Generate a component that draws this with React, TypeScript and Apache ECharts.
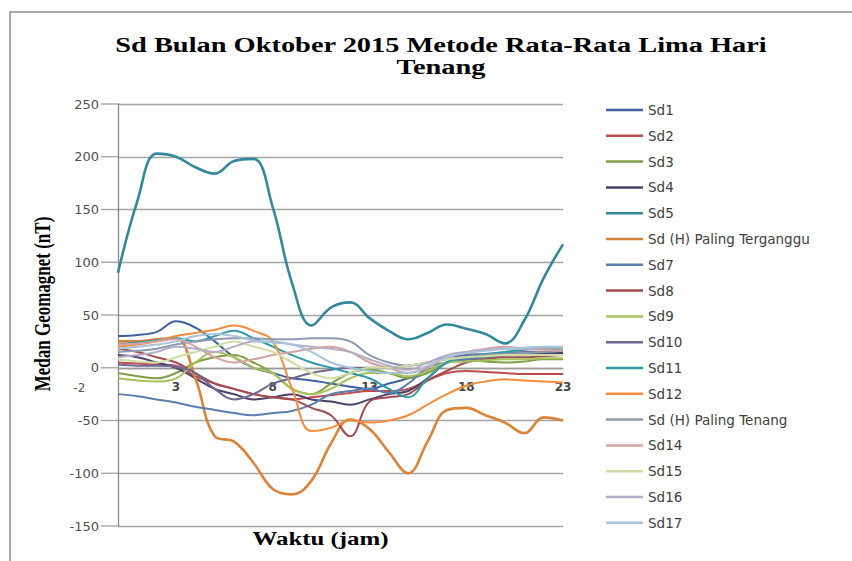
import React, { useEffect, useRef } from "react";
import * as echarts from "echarts";

const titleLines = ["Sd Bulan Oktober 2015 Metode Rata-Rata Lima Hari", "Tenang"];
const xName = "Waktu (jam)";
const yName = "Medan Geomagnet (nT)";

const hours = [0, 1, 2, 3, 4, 5, 6, 7, 8, 9, 10, 11, 12, 13, 14, 15, 16, 17, 18, 19, 20, 21, 22, 23];
const xTickValues = [3, 8, 13, 18, 23];
const xOuterTick = -2;
const yTicks = [-150, -100, -50, 0, 50, 100, 150, 200, 250];

const seriesNames = [
  "Sd1", "Sd2", "Sd3", "Sd4", "Sd5", "Sd (H) Paling Terganggu", "Sd7", "Sd8", "Sd9",
  "Sd10", "Sd11", "Sd12", "Sd (H) Paling Tenang", "Sd14", "Sd15", "Sd16", "Sd17",
];

const sd1 = [30, 31, 34, 44, 38, 25, 10, 0, -5, -10, -12, -15, -18, -20, -15, -10, -3, 5, 8, 10, 12, 13, 14, 15];
const sd2 = [5, 4, 3, 2, -8, -15, -20, -25, -28, -30, -28, -26, -24, -22, -22, -20, -12, -5, -3, -4, -5, -6, -6, -6];
const sd3 = [-5, -8, -10, -5, 5, 10, 12, 5, -5, -20, -25, -15, -5, -2, -5, -10, -5, 5, 8, 6, 5, 6, 8, 8];
const sd4 = [12, 10, 5, 0, -10, -20, -25, -30, -28, -25, -30, -32, -35, -30, -25, -22, -10, 5, 8, 10, 12, 12, 13, 14];
const sd5 = [90, 158, 203, 200, 190, 184, 196, 198, 152, 80, 40, 57, 62, 47, 35, 27, 33, 41, 37, 32, 23, 45, 85, 117];
const sdTerganggu = [25, 25, 27, 28, -10, -65, -70, -90, -115, -120, -107, -72, -49, -58, -80, -100, -70, -40, -38, -45, -52, -62, -47, -50];
const sd7 = [-25, -27, -30, -33, -37, -40, -43, -45, -43, -41, -35, -25, -22, -20, -24, -15, 0, 5, 8, 10, 12, 12, 12, 12];
const sd8 = [18, 15, 10, 5, -5, -15, -20, -25, -28, -30, -38, -45, -65, -32, -28, -25, -12, -3, 5, 8, 10, 10, 11, 12];
const sd9 = [-10, -12, -13, -10, 5, 15, 10, 0, -5, -20, -25, -20, -10, -5, -5, -8, -3, 5, 6, 7, 8, 8, 9, 9];
const sd10 = [3, 2, 2, 1, -5, -20, -30, -25, -15, -10, -5, -2, 0, 0, 0, 2, 5, 10, 12, 13, 14, 15, 15, 16];
const sd11 = [22, 24, 26, 28, 25, 30, 35, 28, 20, 12, 5, 0, -5, -10, -20, -28, -10, 5, 10, 13, 15, 17, 18, 18];
const sd12 = [20, 22, 25, 30, 33, 36, 40, 35, 25, -20, -60, -57, -50, -52, -50, -45, -35, -25, -17, -13, -11, -12, -13, -14];
const sdTenang = [15, 16, 18, 22, 25, 27, 28, 28, 27, 27, 28, 28, 25, 12, 5, 2, 5, 8, 10, 12, 13, 14, 15, 16];
const sd14 = [22, 23, 25, 27, 20, 10, 5, 8, 12, 15, 18, 20, 15, 5, 0, -5, 0, 10, 15, 18, 20, 18, 17, 16];
const sd15 = [8, 6, 5, 10, 15, 20, 25, 20, 15, 5, -5, -10, -5, 0, 0, 2, 5, 8, 10, 11, 12, 12, 12, 12];
const sd16 = [10, 12, 15, 20, 18, 15, 20, 25, 25, 22, 20, 18, 15, 8, 2, -2, 5, 12, 15, 17, 18, 18, 19, 19];
const sd17 = [18, 20, 22, 25, 30, 32, 30, 26, 24, 22, 15, 5, 0, -3, -5, -5, 2, 10, 14, 16, 18, 19, 20, 20];

const seriesValues = [
  sd1, sd2, sd3, sd4, sd5, sdTerganggu, sd7, sd8, sd9, sd10, sd11, sd12, sdTenang, sd14, sd15, sd16, sd17,
];

const seriesColors = [
  "#3E62A0", "#BE4B4E", "#7E9F45", "#4C4068", "#34879C", "#D8843A", "#5B80AE", "#9E4E52", "#A8C25C",
  "#6F6892", "#2F9AAA", "#F28C3E", "#8D9BB2", "#D4A3A2", "#CFDCA2", "#B5ADC8", "#A6C4D9",
];

export default function App() {
  const ref = useRef<HTMLDivElement>(null);

  useEffect(() => {
    if (!ref.current) return;
    const chart = echarts.init(ref.current, null, { renderer: "svg" });
    const option: any = {
      animation: false,
      backgroundColor: "#ffffff",
      grid: { left: 118, right: 289, top: 104, bottom: 35 },
      legend: {
        orient: "vertical",
        left: 601,
        top: 98,
        icon: "rect",
        itemWidth: 37,
        itemHeight: 2.5,
        itemGap: 11.8,
        data: seriesNames,
        textStyle: { fontFamily: "DejaVu Sans", fontSize: 13.5, lineHeight: 14, color: "#404040" },
      },
      xAxis: {
        type: "value",
        min: 0,
        max: 23,
        axisLine: { onZero: false, lineStyle: { color: "#9a9a9a", width: 1.3 } },
        axisTick: { show: false },
        splitLine: { show: false },
        axisLabel: {
          customValues: xTickValues,
          margin: 13,
          fontFamily: "DejaVu Sans",
          fontSize: 12,
          fontWeight: "bold",
          color: "#444",
        },
      },
      yAxis: {
        type: "value",
        min: -150,
        max: 250,
        interval: 50,
        axisLine: { show: true, lineStyle: { color: "#8a8a8a", width: 1.3 } },
        axisTick: { show: false },
        splitLine: { show: true, lineStyle: { color: "#a3a3a3", width: 1.3 } },
        axisLabel: {
          margin: 19,
          fontFamily: "DejaVu Sans",
          fontSize: 13,
          color: "#505050",
        },
      },
      series: seriesNames.map((name, i) => ({
        name,
        type: "line",
        smooth: 0.4,
        symbol: "none",
        data: hours.map((h, j) => [h, seriesValues[i][j]]),
        lineStyle: { color: seriesColors[i], width: i === 4 || i === 5 ? 2.6 : 2 },
        itemStyle: { color: seriesColors[i] },
      })),
    };
    chart.setOption(option);

    const outerX = chart.convertToPixel({ xAxisIndex: 0 }, xOuterTick) as number;
    const zeroY = chart.convertToPixel({ yAxisIndex: 0 }, 0) as number;
    const leftX = chart.convertToPixel({ xAxisIndex: 0 }, 0) as number;
    const rightX = chart.convertToPixel({ xAxisIndex: 0 }, 23) as number;
    const topY = chart.convertToPixel({ yAxisIndex: 0 }, 250) as number;
    const botY = chart.convertToPixel({ yAxisIndex: 0 }, -150) as number;

    const tickMarks = yTicks.map((v) => {
      const py = chart.convertToPixel({ yAxisIndex: 0 }, v) as number;
      return {
        type: "line",
        silent: true,
        shape: { x1: leftX - 17, y1: py, x2: leftX, y2: py },
        style: { stroke: "#a3a3a3", lineWidth: 1.3 },
      };
    });

    chart.setOption({
      xAxis: { offset: zeroY - botY },
      graphic: [
        {
          type: "rect",
          shape: { x: 10, y: 12, width: 900, height: 600 },
          style: { fill: "none", stroke: "#8c8c8c", lineWidth: 1.5 },
          silent: true,
        },
        ...tickMarks,
        {
          type: "text",
          x: 441,
          y: 45,
          scaleX: 1.42,
          style: {
            text: titleLines[0],
            fontFamily: "Liberation Serif",
            fontWeight: "bold",
            fontSize: 20,
            fill: "#000",
            align: "center",
            verticalAlign: "middle",
          },
        },
        {
          type: "text",
          x: 441,
          y: 67,
          scaleX: 1.42,
          style: {
            text: titleLines[1],
            fontFamily: "Liberation Serif",
            fontWeight: "bold",
            fontSize: 20,
            fill: "#000",
            align: "center",
            verticalAlign: "middle",
          },
        },
        {
          type: "text",
          x: (leftX + rightX) / 2 - 20,
          y: botY + 13,
          scaleX: 1.38,
          style: {
            text: xName,
            fontFamily: "Liberation Serif",
            fontWeight: "bold",
            fontSize: 18,
            fill: "#000",
            align: "center",
            verticalAlign: "middle",
          },
        },
        {
          type: "text",
          x: 42,
          y: (topY + botY) / 2 - 11,
          rotation: Math.PI / 2,
          scaleY: 1.35,
          style: {
            text: yName,
            fontFamily: "Liberation Serif",
            fontWeight: "bold",
            fontSize: 17,
            fill: "#000",
            align: "center",
            verticalAlign: "middle",
          },
        },
        {
          type: "text",
          x: outerX,
          y: zeroY + 20,
          style: {
            text: String(xOuterTick),
            fontFamily: "DejaVu Sans",
            fontSize: 12,
            fill: "#555",
            align: "center",
            verticalAlign: "middle",
          },
        },
      ],
    });

    return () => chart.dispose();
  }, []);

  return (
    <div
      ref={ref}
      style={{ position: "fixed", left: 0, top: 0, width: 852, height: 561, background: "#fff" }}
    />
  );
}
